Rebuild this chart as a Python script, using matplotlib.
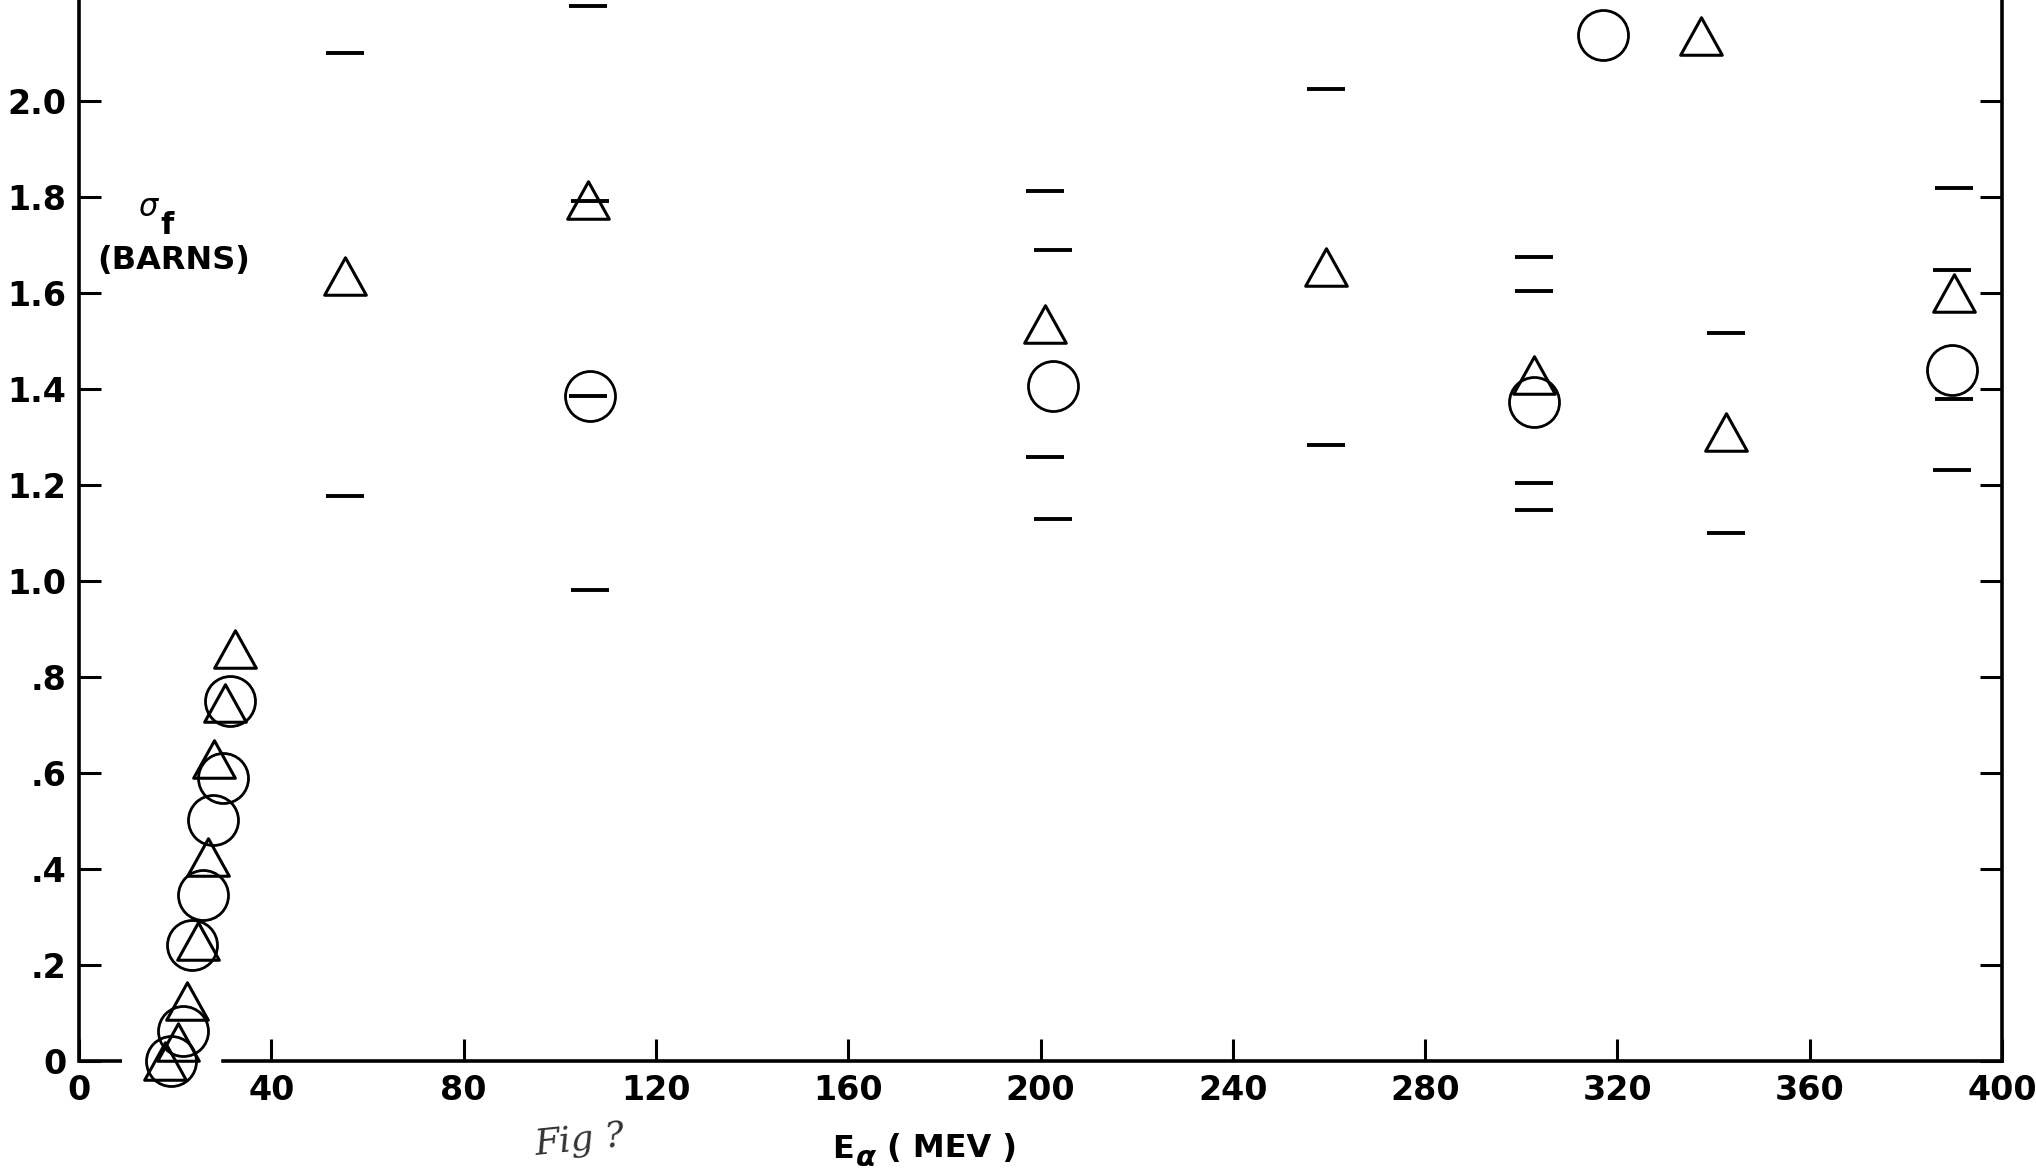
import matplotlib
matplotlib.use("Agg")
import matplotlib.pyplot as plt
from matplotlib.path import Path

# triangles (one data set)
tri_e = [17.9, 20.5, 22.4, 24.7, 26.8, 28.0, 30.3, 32.5,
         55.3, 105.8, 201.0, 259.3, 302.6, 337.4, 342.5, 390.0]
tri_s = [0.00, 0.04, 0.125, 0.25, 0.425, 0.63, 0.745, 0.858,
         1.635, 1.793, 1.535, 1.655, 1.43, 2.135, 1.31, 1.60]
tri_bar_e = [55.3, 105.8, 201.0, 259.3, 302.6, 342.5, 390.0]
tri_bar_lo = [1.177, 1.386, 1.258, 1.283, 1.204, 1.099, 1.38]
tri_bar_hi = [2.099, 2.198, 1.813, 2.024, 1.675, 1.516, 1.819]

# circles (other data set)
circ_e = [19.2, 21.6, 23.6, 25.8, 27.8, 29.9, 31.5,
          106.3, 202.6, 302.6, 317.0, 389.7]
circ_s = [0.0, 0.062, 0.242, 0.345, 0.503, 0.59, 0.75,
          1.386, 1.407, 1.372, 2.138, 1.44]
circ_bar_e = [106.3, 202.6, 302.6, 389.7]
circ_bar_lo = [0.981, 1.129, 1.147, 1.231]
circ_bar_hi = [1.791, 1.689, 1.605, 1.648]

x_ticks = [0, 40, 80, 120, 160, 200, 240, 280, 320, 360, 400]
y_ticks = [0, 0.2, 0.4, 0.6, 0.8, 1.0, 1.2, 1.4, 1.6, 1.8, 2.0]
y_labels = ["0", ".2", ".4", ".6", ".8", "1.0", "1.2", "1.4", "1.6", "1.8", "2.0"]

FONT = "DejaVu Sans"
W, H = 2036, 1172
fig = plt.figure(figsize=(W / 100, H / 100), dpi=100)
ax = fig.add_axes([79 / W, 1 - 1061 / H, (2002 - 79) / W, 1061 / H])
ax.set_xlim(0, 400)
ax.set_ylim(0, 1061 / 480)

# flatter triangle than the default '^'
tri = Path([(-1, -0.9), (1, -0.9), (0, 0.9), (-1, -0.9)],
           [Path.MOVETO, Path.LINETO, Path.LINETO, Path.CLOSEPOLY])

ax.plot(tri_e, tri_s, linestyle="none", marker=tri, markersize=30,
        markerfacecolor="none", markeredgecolor="black", markeredgewidth=2.2,
        clip_on=False)
ax.plot(circ_e, circ_s, linestyle="none", marker="o", markersize=36,
        markerfacecolor="none", markeredgecolor="black", markeredgewidth=2.0,
        clip_on=False)

# error limits drawn as bare horizontal dashes
for xs, lo, hi in [(tri_bar_e, tri_bar_lo, tri_bar_hi),
                   (circ_bar_e, circ_bar_lo, circ_bar_hi)]:
    ax.plot(xs, lo, linestyle="none", marker="_", markersize=27,
            markeredgewidth=2.8, color="black", clip_on=False)
    ax.plot(xs, hi, linestyle="none", marker="_", markersize=27,
            markeredgewidth=2.8, color="black", clip_on=False)

for side in ["left", "right", "bottom"]:
    ax.spines[side].set_linewidth(2.6)
ax.spines["top"].set_visible(False)
# the scan has the base line broken where the low-energy points pile up
ax.spines["bottom"].set_bounds(30, 400)
ax.plot([0, 9], [0, 0], color="black", linewidth=2.6, clip_on=False,
        solid_capstyle="butt")

ax.set_xticks(x_ticks)
ax.set_xticklabels([str(v) for v in x_ticks])
ax.set_yticks(y_ticks)
ax.set_yticklabels(y_labels)
ax.tick_params(axis="both", direction="in", length=16, width=2.2,
               labelsize=24, right=True, top=False)
ax.tick_params(axis="x", pad=9)
ax.tick_params(axis="y", pad=9)
for lab in ax.get_xticklabels() + ax.get_yticklabels():
    lab.set_fontfamily(FONT)
    lab.set_fontweight("bold")

# axis titles
fig.text(148 / W, 1 - 208 / H, "σ", fontsize=22, fontstyle="italic",
         family=FONT, ha="center", va="center")
fig.text(167 / W, 1 - 225 / H, "f", fontsize=22, fontweight="bold",
         family=FONT, ha="center", va="center")
fig.text(174 / W, 1 - 260 / H, "(BARNS)", fontsize=23, fontweight="bold",
         family=FONT, ha="center", va="center")

fig.text(843 / W, 1 - 1149 / H, "E", fontsize=23, fontweight="bold",
         family=FONT, ha="center", va="center")
fig.text(866 / W, 1 - 1158 / H, "α", fontsize=21, fontweight="bold",
         fontstyle="italic", family=FONT, ha="center", va="center")
fig.text(952 / W, 1 - 1149 / H, "( MEV )", fontsize=23, fontweight="bold",
         family=FONT, ha="center", va="center")

# handwritten note on the scan
fig.text(580 / W, 1 - 1140 / H, "Fig ?", fontsize=26, fontstyle="italic",
         family="DejaVu Serif", color="#333333", ha="center", va="center",
         rotation=6)

fig.savefig("out.png", dpi=100, facecolor="white")
